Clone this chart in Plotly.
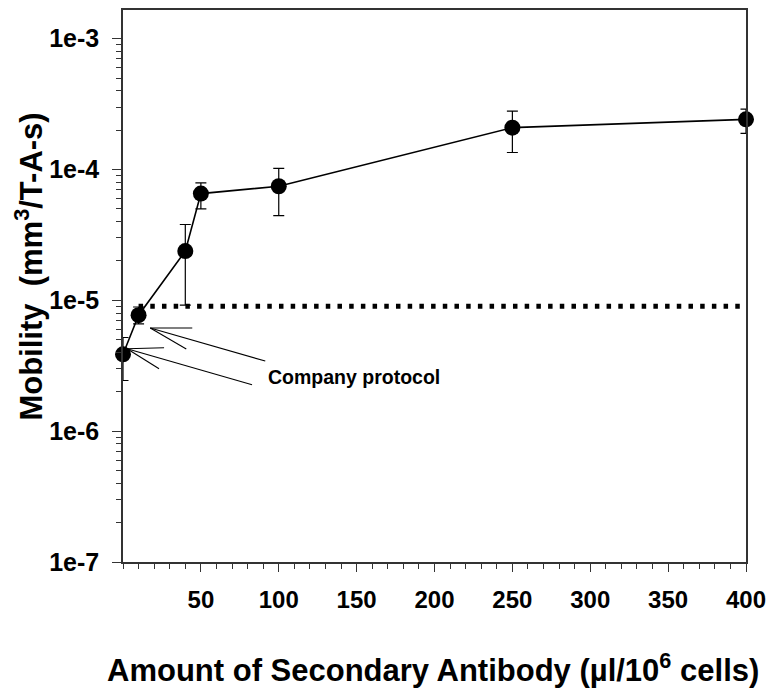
import plotly.graph_objects as go
import numpy as np

# Data
antibody_ul = [0, 10, 40, 50, 100, 250, 400]
mobility = [3.87e-6, 7.7e-6, 2.38e-5, 6.55e-5, 7.45e-5, 2.09e-4, 2.42e-4]
mobility_upper = [5.2e-6, 8.9e-6, 3.8e-5, 7.9e-5, 1.02e-4, 2.8e-4, 2.9e-4]
mobility_lower = [2.44e-6, 6.6e-6, 9.2e-6, 5.0e-5, 4.45e-5, 1.35e-4, 1.89e-4]

threshold_x = [10, 397]
threshold_y = [9.0e-6, 9.0e-6]

x_ticks = [50, 100, 150, 200, 250, 300, 350, 400]
y_ticks = [1e-7, 1e-6, 1e-5, 1e-4, 1e-3]
y_ticktext = ["1e-7", "1e-6", "1e-5", "1e-4", "1e-3"]

err_plus = [u - v for u, v in zip(mobility_upper, mobility)]
err_minus = [v - l for v, l in zip(mobility, mobility_lower)]

FONT = "Liberation Sans, Arial, Helvetica, sans-serif"
Y_LOG_RANGE = [-7, -2.7805]

fig = go.Figure()

fig.add_trace(go.Scatter(
    x=threshold_x, y=threshold_y, mode="lines",
    line=dict(color="black", width=5, dash="4.5px,7.2px"),
    hoverinfo="skip", showlegend=False, cliponaxis=False))

fig.add_trace(go.Scatter(
    x=antibody_ul, y=mobility, mode="lines+markers",
    line=dict(color="black", width=1.6),
    marker=dict(color="black", size=16),
    error_y=dict(type="data", symmetric=False, array=err_plus,
                 arrayminus=err_minus, color="black", thickness=1.2, width=5.5),
    showlegend=False, cliponaxis=False))

minor_y = [m * 10.0 ** e for e in range(-7, -2) for m in range(2, 10)]

# page body has an 8px margin: size the figure so it ends at the window edge
fig.update_layout(
    width=771, height=690,
    margin=dict(l=115, r=33, t=2, b=136, autoexpand=False),
    paper_bgcolor="white", plot_bgcolor="white",
    font=dict(family=FONT, color="black", size=24, weight="bold"),
    showlegend=False,
    xaxis=dict(
        range=[0, 400], tickvals=x_ticks, ticks="outside", ticklen=8,
        tickwidth=1.2, tickcolor="#333",
        showline=True, linecolor="#333", linewidth=1.5, mirror=True,
        showgrid=False, zeroline=False,
        tickfont=dict(size=24, family=FONT, weight="bold"),
        ticklabelstandoff=7,
        minor=dict(dtick=10, tick0=0, ticks="outside", ticklen=5,
                   tickwidth=1.1, tickcolor="#333", showgrid=False),
    ),
    yaxis=dict(
        type="log", range=Y_LOG_RANGE, tickvals=y_ticks, ticktext=y_ticktext,
        ticks="outside", ticklen=9, tickwidth=1.2, tickcolor="#333",
        showline=True, linecolor="#333", linewidth=1.5, mirror=True,
        showgrid=False, zeroline=False,
        tickfont=dict(size=25, family=FONT, weight="bold"),
        ticklabelstandoff=8,
        minor=dict(tickvals=minor_y, ticks="outside", ticklen=5,
                   tickwidth=1.1, tickcolor="#333", showgrid=False),
    ),
)

# Axis titles as annotations for precise placement
fig.add_annotation(
    text="Mobility\u00a0\u00a0(mm<sup>3</sup>/T-A-s)", textangle=-90,
    xref="paper", yref="paper", x=-0.151, y=0.535,
    xanchor="center", yanchor="middle", showarrow=False,
    font=dict(size=31, family=FONT, weight="bold", color="black"))
fig.add_annotation(
    text="Amount of Secondary Antibody (\u00b5l/10<sup>6</sup> cells)",
    xref="paper", yref="paper", x=0.497, y=-0.192,
    xanchor="center", yanchor="middle", showarrow=False,
    font=dict(size=31, family=FONT, weight="bold", color="black"))

# "Company protocol" label
fig.add_annotation(
    text="Company protocol", x=91.8, y=np.log10(2.58e-6),
    xanchor="left", yanchor="middle", showarrow=False,
    font=dict(size=19.5, family=FONT, weight="bold", color="black"))

# Arrows: tips (data x, value y) with pixel offsets for the shaft and barbs
arrow_tips = [(17.5, 6.14e-6), (2.6, 4.27e-6)]
arrow_offsets = [
    [(115, 33), (42, 0), (36, 21)],
    [(125, 36), (37, -1), (32, 20)],
]
for (tx, ty), offs in zip(arrow_tips, arrow_offsets):
    ypaper = (np.log10(ty) - Y_LOG_RANGE[0]) / (Y_LOG_RANGE[1] - Y_LOG_RANGE[0])
    for dx, dy in offs:
        fig.add_shape(
            type="line", xref="x", yref="paper",
            xsizemode="pixel", ysizemode="pixel",
            xanchor=tx, yanchor=ypaper,
            x0=0, y0=0, x1=dx, y1=-dy,
            line=dict(color="black", width=1.1))

fig.write_html("out.html")
